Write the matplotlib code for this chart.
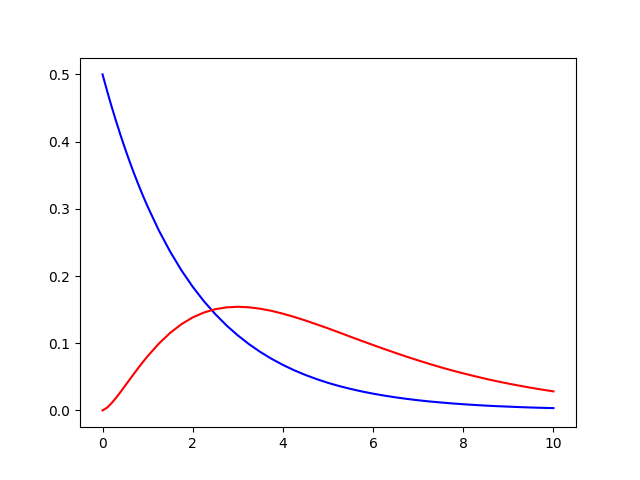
import matplotlib
matplotlib.use("Agg")
import matplotlib.pyplot as plt

# sample positions along the x axis (denser near zero where the red curve bends)
x = [0.0, 0.1, 0.2, 0.3, 0.4, 0.5, 0.6, 0.7, 0.8, 0.9, 1.0,
     1.25, 1.5, 1.75, 2.0, 2.25, 2.5, 2.75,
     3.0, 3.25, 3.5, 3.75, 4.0, 4.25, 4.5, 4.75, 5.0, 5.25, 5.5, 5.75,
     6.0, 6.25, 6.5, 6.75, 7.0, 7.25, 7.5, 7.75, 8.0, 8.25, 8.5, 8.75,
     9.0, 9.25, 9.5, 9.75, 10.0]

# blue curve (decaying)
blue = [0.5000, 0.4756, 0.4524, 0.4304, 0.4094, 0.3894, 0.3704, 0.3523,
        0.3352, 0.3188, 0.3033,
        0.2676, 0.2362, 0.2084,
        0.1839, 0.1623, 0.1433, 0.1264, 0.1116, 0.0985, 0.0869, 0.0767,
        0.0677, 0.0597, 0.0527, 0.0465, 0.0410, 0.0362, 0.0320, 0.0282,
        0.0249, 0.0220, 0.0194, 0.0171, 0.0151, 0.0133, 0.0118, 0.0104,
        0.0092, 0.0081, 0.0071, 0.0063, 0.0056, 0.0049, 0.0043, 0.0038,
        0.0034]

# red curve (rise and fall)
red = [0.0000, 0.0040, 0.0108, 0.0188, 0.0275, 0.0366, 0.0458, 0.0549,
       0.0638, 0.0724, 0.0807,
       0.0995, 0.1154, 0.1283,
       0.1384, 0.1457, 0.1506, 0.1533, 0.1542, 0.1534, 0.1513, 0.1481,
       0.1439, 0.1391, 0.1338, 0.1280, 0.1221, 0.1159, 0.1096, 0.1034,
       0.0973, 0.0913, 0.0855, 0.0798, 0.0744, 0.0692, 0.0642, 0.0595,
       0.0551, 0.0510, 0.0470, 0.0433, 0.0399, 0.0367, 0.0337, 0.0309,
       0.0283]

fig, ax = plt.subplots(figsize=(6.4, 4.8), dpi=100)
ax.plot(x, blue, color='blue')
ax.plot(x, red, color='red')
fig.savefig('out.png')
